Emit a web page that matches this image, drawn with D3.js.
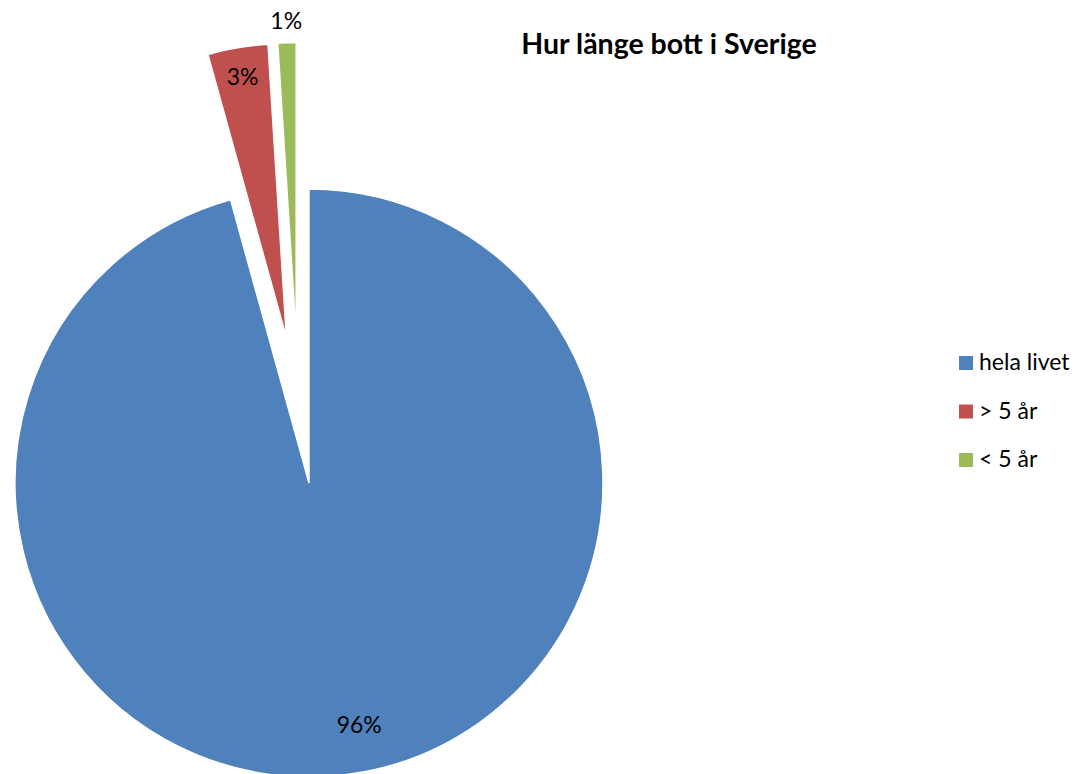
<!DOCTYPE html>
<html>
<head>
<meta charset="utf-8">
<script src="https://cdn.jsdelivr.net/npm/d3@7"></script>
<style>
  body { margin: 0; background: #fff; }
  text { font-family: Lato, "Open Sans", sans-serif; fill: #000; }
</style>
</head>
<body>
<svg width="1086" height="774"></svg>
<script>
// data (percent)
var categories = ["hela livet", "> 5 år", "< 5 år"];
var values = [95.7, 3.3, 1.0];
var colors = ["#4F81BD", "#C0504D", "#9BBB59"];

function draw_pie() {
    var svg = d3.select("svg");
    var cx = 309, cy = 483, r = 294;

    // exploded slices: distance and small tilt off the bisector (degrees)
    var explode = [0, 147, 147];
    var tilt = [0, -0.7, 3.2];
    // label placement: fraction of radius and tilt off the bisector (degrees)
    var labelR = [0.84, 0.9, 1.075];
    var labelTilt = [4, 0, 0];

    var pie = d3.pie().sort(null).value(function (d) { return d; });
    var arcs = pie(values);

    var arc = d3.arc().innerRadius(0).outerRadius(r);

    var g = svg.append("g").attr("transform", "translate(" + cx + "," + cy + ")");

    var slice = g.selectAll("g.slice")
        .data(arcs)
        .enter().append("g")
        .attr("class", "slice")
        .attr("transform", function (d, i) {
            var a = (d.startAngle + d.endAngle) / 2 - tilt[i] * Math.PI / 180;
            return "translate(" + (Math.sin(a) * explode[i]) + "," + (-Math.cos(a) * explode[i]) + ")";
        });

    slice.append("path")
        .attr("d", arc)
        .attr("fill", function (d, i) { return colors[i]; })
        .attr("stroke", "#fff")
        .attr("stroke-width", 1.5);

    slice.append("text")
        .attr("transform", function (d, i) {
            var a = (d.startAngle + d.endAngle) / 2 - labelTilt[i] * Math.PI / 180;
            var rr = r * labelR[i];
            return "translate(" + (Math.sin(a) * rr) + "," + (-Math.cos(a) * rr) + ")";
        })
        .attr("text-anchor", "middle")
        .attr("dy", "0.35em")
        .style("font-size", "23px")
        .text(function (d) { return Math.round(d.data) + "%"; });

    // title
    svg.append("text")
        .attr("x", 669)
        .attr("y", 54)
        .attr("text-anchor", "middle")
        .style("font-size", "28.5px")
        .style("font-weight", "bold")
        .text("Hur länge bott i Sverige");

    // legend
    var legend = svg.append("g").attr("transform", "translate(959,356)");
    var item = legend.selectAll("g")
        .data(categories)
        .enter().append("g")
        .attr("transform", function (d, i) { return "translate(0," + (i * 48.5) + ")"; });
    item.append("rect")
        .attr("width", 14).attr("height", 14)
        .attr("fill", function (d, i) { return colors[i]; });
    item.append("text")
        .attr("x", 20)
        .attr("y", 14)
        .style("font-size", "23px")
        .text(function (d) { return d; });
}

draw_pie();
</script>
</body>
</html>
